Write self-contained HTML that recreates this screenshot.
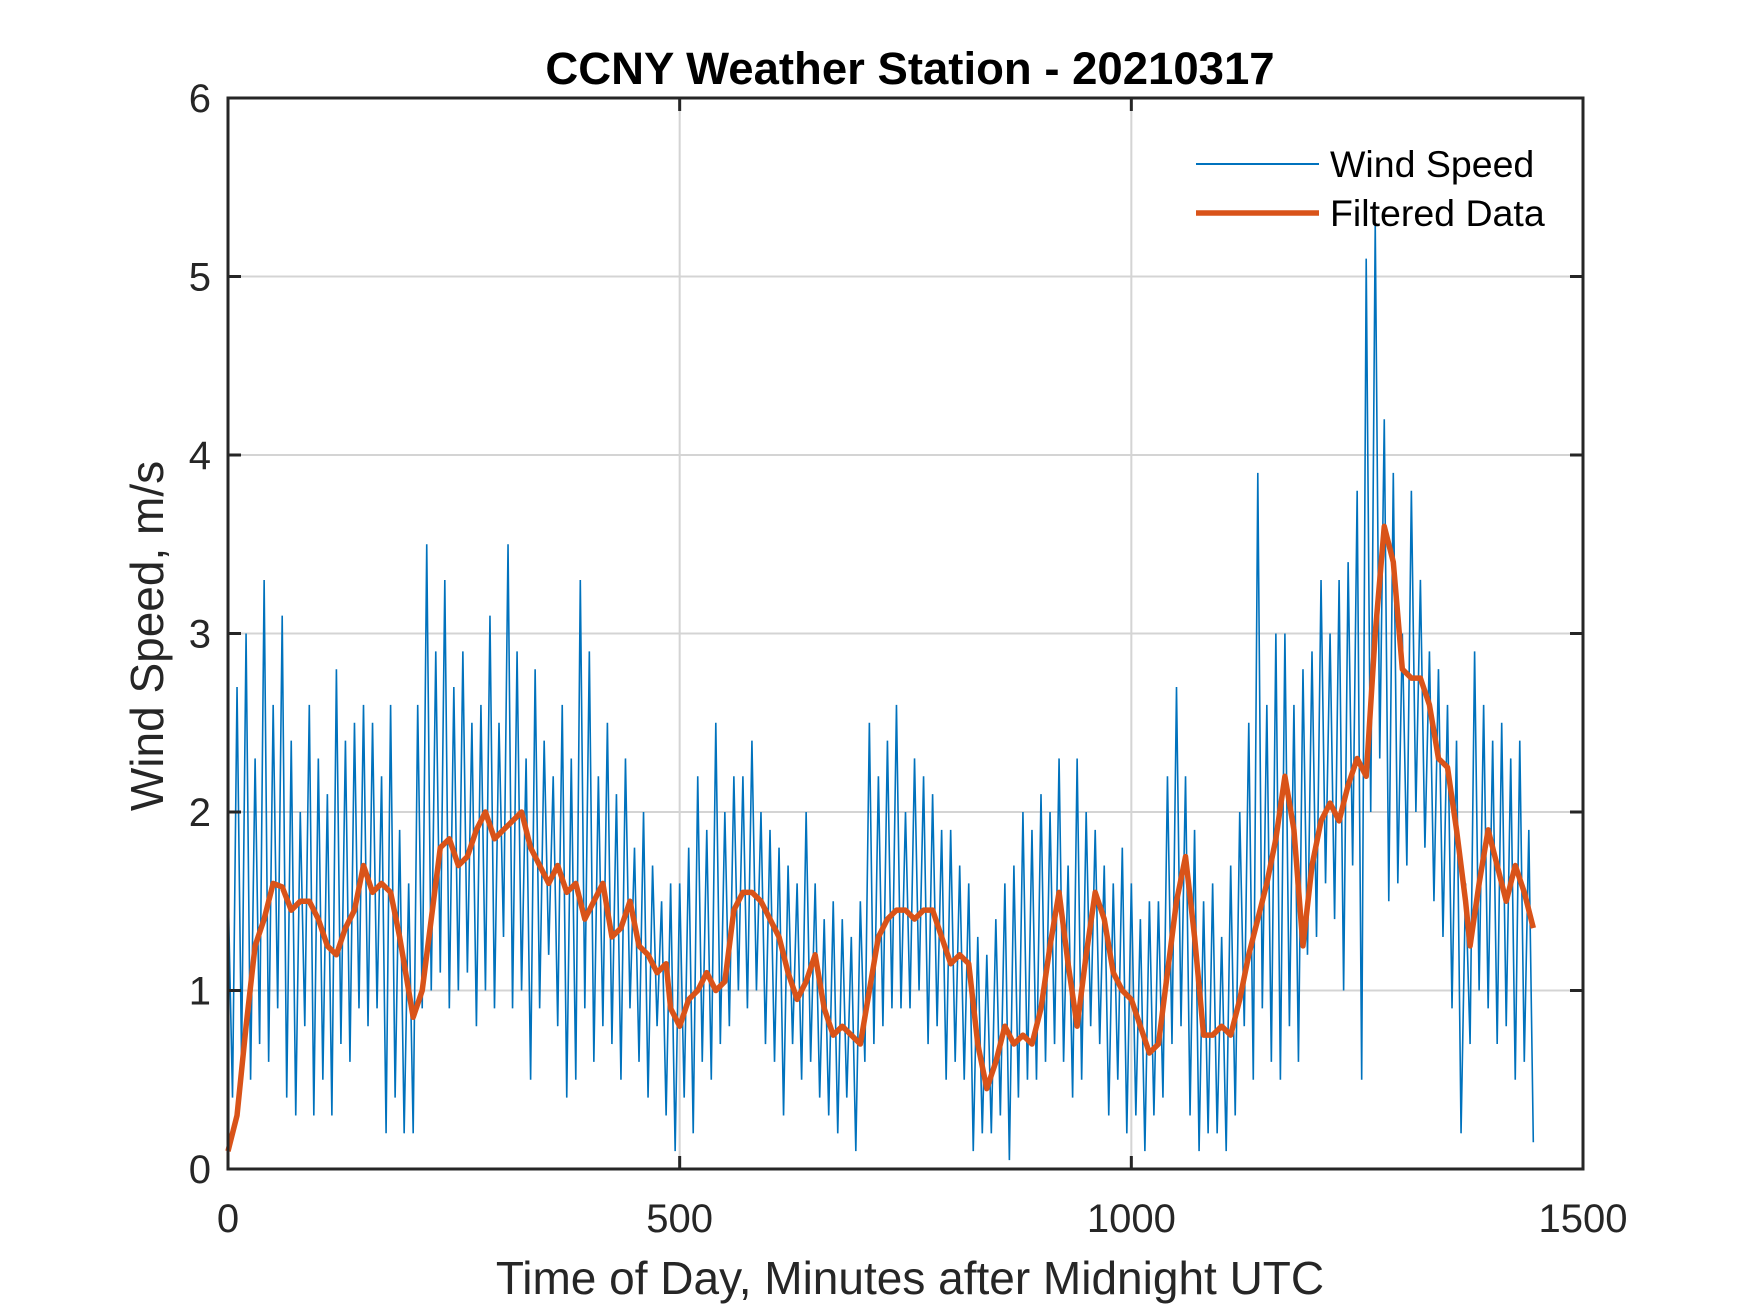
<!DOCTYPE html>
<html><head><meta charset="utf-8"><style>
html,body{margin:0;padding:0;background:#fff;}
svg{display:block;font-family:"Liberation Sans",Arial,sans-serif;}
</style></head><body>
<svg id="chart" width="1750" height="1313" viewBox="0 0 1750 1313">
<rect x="0" y="0" width="1750" height="1313" fill="#fff"/>
<g id="grid"></g>
<g id="series"></g>
<g id="axes"></g>
<text x="910" y="84" text-anchor="middle" font-size="45.5" font-weight="bold" fill="#000">CCNY Weather Station - 20210317</text>
<text x="910" y="1294" text-anchor="middle" font-size="46" fill="#262626">Time of Day, Minutes after Midnight UTC</text>
<text transform="translate(163,636) rotate(-90)" text-anchor="middle" font-size="46" fill="#262626">Wind Speed, m/s</text>
<g>
<line x1="1196" y1="164" x2="1319" y2="164" stroke="#0072BD" stroke-width="2"/>
<text x="1330" y="177" font-size="37.5" fill="#000">Wind Speed</text>
<line x1="1196" y1="213" x2="1319" y2="213" stroke="#D95319" stroke-width="5.5"/>
<text x="1330" y="226" font-size="37.5" fill="#000">Filtered Data</text>
</g>
</svg>
<script>
const xTicks=[0,500,1000,1500];
const yTicks=[0,1,2,3,4,5,6];
const windStep=5;
const windValues=[
1.6,0.4,2.7,0.6,3.0,0.5,2.3,0.7,3.3,0.6,
2.6,0.9,3.1,0.4,2.4,0.3,2.0,0.8,2.6,0.3,
2.3,0.5,2.1,0.3,2.8,0.7,2.4,0.6,2.5,0.9,
2.6,0.8,2.5,0.9,2.2,0.2,2.6,0.4,1.9,0.2,
1.6,0.2,2.6,0.9,3.5,1.0,2.9,1.1,3.3,0.9,
2.7,1.0,2.9,1.1,2.5,0.8,2.6,1.0,3.1,0.9,
2.5,1.3,3.5,0.9,2.9,1.0,2.3,0.5,2.8,0.9,
2.4,1.2,2.2,0.8,2.6,0.4,2.3,0.5,3.3,0.9,
2.9,0.6,2.2,0.8,2.5,0.7,2.1,0.5,2.3,0.9,
1.8,0.6,2.0,0.4,1.7,0.8,1.5,0.3,1.6,0.1,
1.6,0.4,1.8,0.2,2.2,0.6,1.9,0.5,2.5,0.7,
2.0,0.8,2.2,1.0,2.2,0.9,2.4,1.0,2.0,0.7,
1.9,0.6,1.8,0.3,1.7,0.7,1.6,0.5,2.0,0.6,
1.6,0.4,1.4,0.3,1.5,0.2,1.4,0.4,1.3,0.1,
1.5,0.6,2.5,0.7,2.2,0.8,2.4,0.9,2.6,0.9,
2.0,0.9,2.3,1.0,2.2,0.7,2.1,0.8,1.9,0.5,
1.9,0.6,1.7,0.5,1.6,0.1,1.3,0.2,1.2,0.2,
1.4,0.3,1.6,0.05,1.7,0.4,2.0,0.5,1.9,0.5,
2.1,0.6,2.0,0.7,2.3,0.6,1.7,0.4,2.3,0.5,
2.0,0.8,1.9,0.7,1.7,0.3,1.6,0.5,1.8,0.2,
1.6,0.3,1.4,0.1,1.5,0.3,1.5,0.4,2.2,0.7,
2.7,0.8,2.2,0.3,1.9,0.1,1.5,0.2,1.6,0.2,
1.3,0.1,1.7,0.3,2.0,0.8,2.5,0.5,3.9,0.9,
2.6,0.6,3.0,0.5,3.0,0.8,2.6,0.6,2.8,1.2,
2.9,1.3,3.3,1.6,3.0,1.4,3.3,1.0,3.4,1.7,
3.8,0.5,5.1,2.0,5.3,2.3,4.2,1.5,3.9,1.6,
3.0,1.7,3.8,2.0,3.3,1.8,2.9,1.5,2.8,1.3,
2.6,0.9,2.4,0.2,1.6,0.7,2.9,1.0,2.6,0.9,
2.4,0.7,2.5,0.8,2.3,0.5,2.4,0.6,1.9,0.15];
const filtMinutes=[0,10,20,30,40,50,60,70,80,90,100,110,120,130,140,150,160,170,180,190,200,205,215,225,235,245,255,265,275,285,295,305,315,325,335,345,355,365,375,385,395,405,415,425,435,445,455,465,475,485,490,500,510,520,530,540,550,560,570,580,590,600,610,620,630,640,650,660,670,680,690,700,710,720,730,740,750,760,770,780,790,800,810,820,830,840,850,860,870,880,890,900,910,920,930,940,950,960,970,980,990,1000,1010,1020,1030,1040,1050,1060,1070,1080,1090,1100,1110,1120,1130,1140,1150,1160,1170,1180,1190,1200,1210,1220,1230,1240,1250,1260,1270,1280,1290,1300,1310,1320,1330,1340,1350,1360,1370,1375,1385,1395,1405,1415,1425,1435,1445];
const filtValues=[0.1,0.3,0.8,1.25,1.4,1.6,1.58,1.45,1.5,1.5,1.4,1.25,1.2,1.35,1.45,1.7,1.55,1.6,1.55,1.3,1.0,0.85,1.0,1.4,1.8,1.85,1.7,1.75,1.9,2.0,1.85,1.9,1.95,2.0,1.8,1.7,1.6,1.7,1.55,1.6,1.4,1.5,1.6,1.3,1.35,1.5,1.25,1.2,1.1,1.15,0.9,0.8,0.95,1.0,1.1,1.0,1.05,1.45,1.55,1.55,1.5,1.4,1.3,1.1,0.95,1.05,1.2,0.9,0.75,0.8,0.75,0.7,1.0,1.3,1.4,1.45,1.45,1.4,1.45,1.45,1.3,1.15,1.2,1.15,0.7,0.45,0.6,0.8,0.7,0.75,0.7,0.9,1.25,1.55,1.15,0.8,1.2,1.55,1.4,1.1,1.0,0.95,0.8,0.65,0.7,1.1,1.5,1.75,1.3,0.75,0.75,0.8,0.75,0.95,1.2,1.4,1.6,1.85,2.2,1.9,1.25,1.7,1.95,2.05,1.95,2.15,2.3,2.2,3.0,3.6,3.4,2.8,2.75,2.75,2.6,2.3,2.25,1.9,1.5,1.25,1.6,1.9,1.7,1.5,1.7,1.55,1.35];

const L=228,R=1583,T=98,B=1169;
const xs=v=>L+(v-0)/(1500-0)*(R-L);
const ys=v=>B-(v-0)/(6-0)*(B-T);
const NS='http://www.w3.org/2000/svg';
function mk(tag,parent){const e=document.createElementNS(NS,tag);parent.appendChild(e);return e;}
const grid=document.getElementById('grid'),series=document.getElementById('series'),axes=document.getElementById('axes');
xTicks.forEach(t=>{
 if(t>0&&t<1500){const g=mk('line',grid);g.setAttribute('x1',xs(t));g.setAttribute('x2',xs(t));g.setAttribute('y1',T);g.setAttribute('y2',B);g.setAttribute('stroke','#d4d4d4');g.setAttribute('stroke-width','2');
 
 }
 const tk=mk('path',axes);tk.setAttribute('d',`M${xs(t)},${B}v-13M${xs(t)},${T}v13`);tk.setAttribute('stroke','#262626');tk.setAttribute('stroke-width','3');
 
 
 const lb=mk('text',axes);lb.setAttribute('x',xs(t));lb.setAttribute('y',B+63);lb.setAttribute('text-anchor','middle');lb.setAttribute('font-size','40');lb.setAttribute('fill','#262626');lb.textContent=t;
 
 
});
yTicks.forEach(t=>{
 if(t>0&&t<6){const g=mk('line',grid);g.setAttribute('x1',L);g.setAttribute('x2',R);g.setAttribute('y1',ys(t));g.setAttribute('y2',ys(t));g.setAttribute('stroke','#d4d4d4');g.setAttribute('stroke-width','2');
 
 }
 const tk=mk('path',axes);tk.setAttribute('d',`M${L},${ys(t)}h13M${R},${ys(t)}h-13`);tk.setAttribute('stroke','#262626');tk.setAttribute('stroke-width','3');
 
 
 const lb=mk('text',axes);lb.setAttribute('x',L-17);lb.setAttribute('y',ys(t)+14);lb.setAttribute('text-anchor','end');lb.setAttribute('font-size','40');lb.setAttribute('fill','#262626');lb.textContent=t;
 
 
});
const frame=mk('rect',axes);frame.setAttribute('x',L);frame.setAttribute('y',T);frame.setAttribute('width',R-L);frame.setAttribute('height',B-T);frame.setAttribute('fill','none');frame.setAttribute('stroke','#262626');frame.setAttribute('stroke-width','3');


const wp=mk('polyline',series);
wp.setAttribute('points',windValues.map((v,i)=>xs(i*windStep)+','+ys(v)).join(' '));
wp.setAttribute('fill','none');wp.setAttribute('stroke','#0072BD');wp.setAttribute('stroke-width','1.6');


const fp=mk('polyline',series);
fp.setAttribute('points',filtValues.map((v,i)=>xs(filtMinutes[i])+','+ys(v)).join(' '));
fp.setAttribute('fill','none');fp.setAttribute('stroke','#D95319');fp.setAttribute('stroke-width','5.5');fp.setAttribute('stroke-linejoin','round');


</script>
</body></html>
